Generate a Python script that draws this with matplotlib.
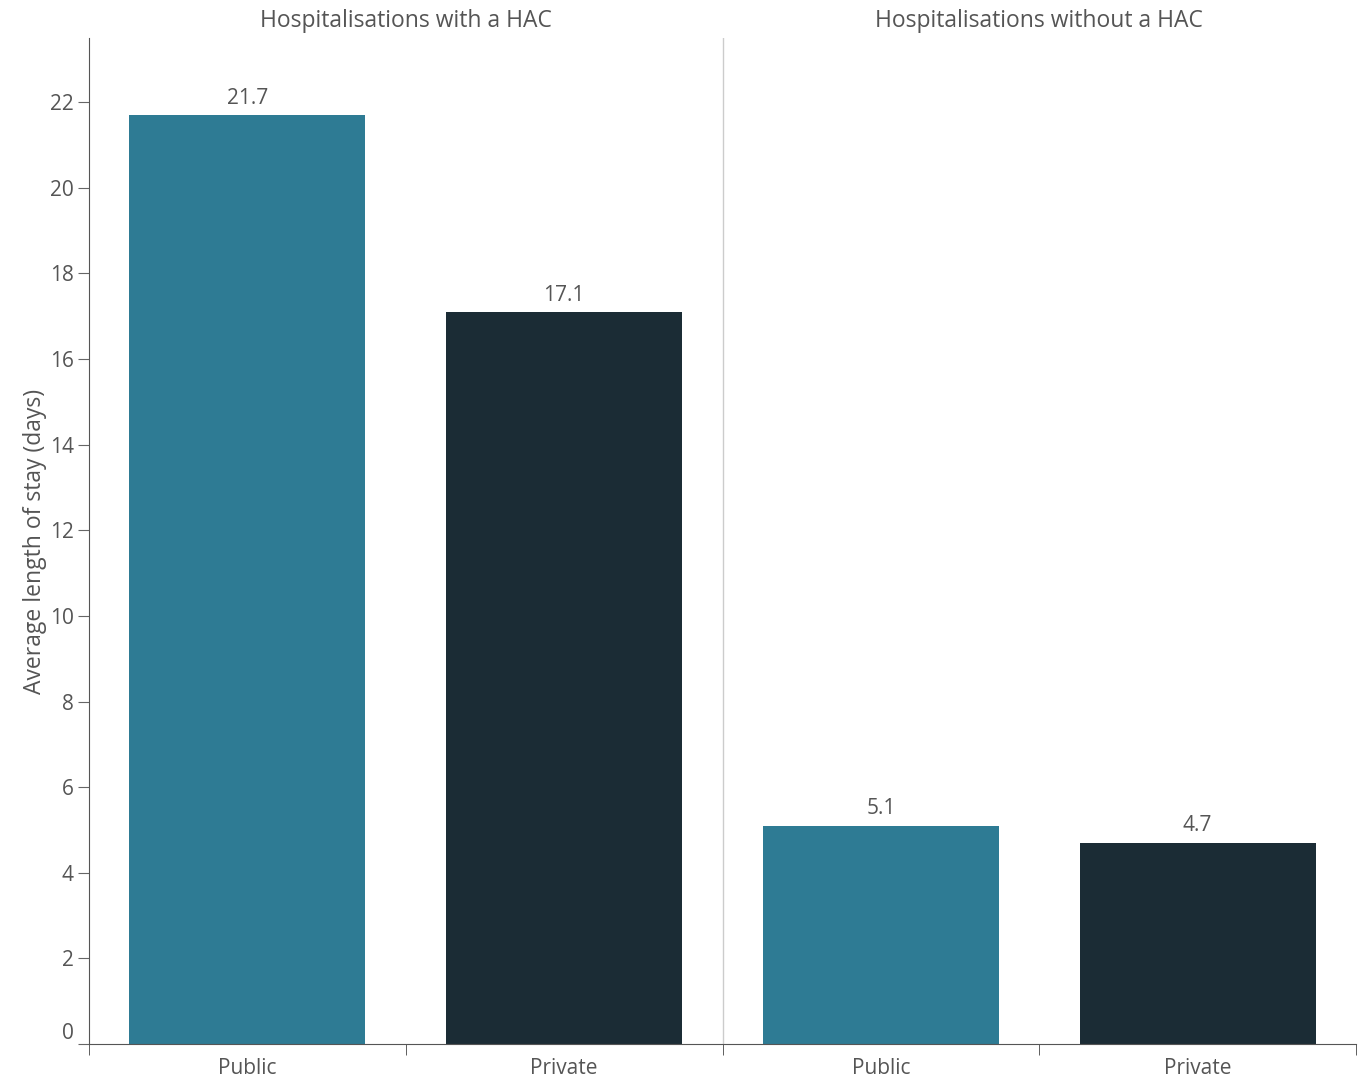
import matplotlib.pyplot as plt
import numpy as np

plt.rcParams['font.family'] = ['Open Sans', 'DejaVu Sans']

groups = ["Hospitalisations with a HAC", "Hospitalisations without a HAC"]
sectors = ["Public", "Private", "Public", "Private"]
values = [21.7, 17.1, 5.1, 4.7]
colours = ["#2E7B94", "#1B2C35", "#2E7B94", "#1B2C35"]

txt = "#555555"

fig = plt.figure(figsize=(13.61, 10.8), dpi=100)
ax = fig.add_axes([89/1361, 1 - 1044/1080, (1356-89)/1361, (1044-38)/1080])

x = np.arange(len(values))
bars = ax.bar(x, values, width=0.745, color=colours)
for xi, v in zip(x, values):
    ax.text(xi, v + 0.15, f"{v:.1f}", ha="center", va="bottom", fontsize=15, color=txt)

ax.set_xlim(-0.5, 3.5)
ax.set_ylim(0, 23.5)
ax.set_yticks(np.arange(0, 23, 2))
ax.tick_params(axis="y", length=8, color="#666666", labelsize=15, labelcolor=txt, pad=3)
zero = ax.get_yticklabels()[0]
zero.set_verticalalignment("bottom")
zero.set_y(0.1)

ax.set_xticks(x)
ax.set_xticklabels(sectors)
ax.tick_params(axis="x", which="major", length=0, labelsize=15, labelcolor=txt, pad=10)
ax.set_xticks([-0.5, 0.5, 1.5, 2.5, 3.5], minor=True)
ax.tick_params(axis="x", which="minor", length=8, color="#444444")

for s in ["top", "right"]:
    ax.spines[s].set_visible(False)
ax.spines["left"].set_color("#555555")
ax.spines["bottom"].set_color("#555555")
ax.axvline(1.5, color="#cccccc", lw=1)

ax.set_ylabel("Average length of stay (days)", fontsize=16.5, color=txt, labelpad=2)

ax.text(0.5, 1.005, groups[0], transform=ax.get_xaxis_transform(), ha="center", va="bottom",
        fontsize=16.5, color=txt)
ax.text(2.5, 1.005, groups[1], transform=ax.get_xaxis_transform(), ha="center", va="bottom",
        fontsize=16.5, color=txt)

fig.savefig("out.png", dpi=100)
